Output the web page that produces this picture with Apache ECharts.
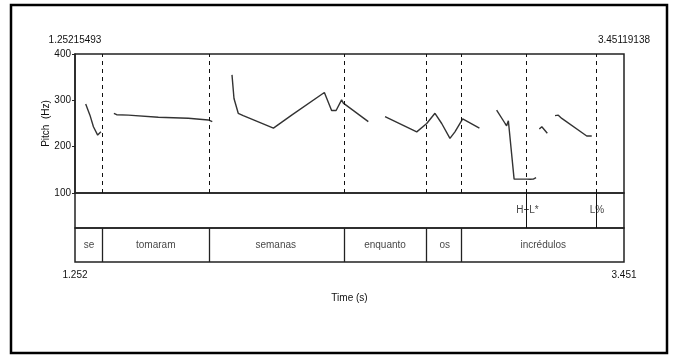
<!DOCTYPE html>
<html>
<head>
<meta charset="utf-8">
<script src="https://cdn.jsdelivr.net/npm/echarts@6/dist/echarts.min.js"></script>
<style>
html,body{margin:0;padding:0;background:#fff;}
#chart{width:674px;height:356px;}
</style>
</head>
<body>
<div id="chart"></div>
<script>
// ---- data ----
const tMin = 1.25215493;
const tMax = 3.45119138;
const headerLabels = ['1.25215493', '3.45119138'];
const bottomLabels = ['1.252', '3.451'];
const pitchTicks = [100, 200, 300, 400];

// pitch contour segments: [time (s), pitch (Hz)]
const seg1 = [[1.295,292],[1.312,268],[1.326,243],[1.343,225],[1.356,232]];
const seg2 = [[1.408,272],[1.419,269],[1.466,268],[1.473,265.5],[1.586,263.4],[1.593,262],[1.706,261.2],[1.713,259],[1.786,257.6],[1.802,254]];
const seg3 = [[1.881,355],[1.889,304],[1.906,272],[1.926,267],[2.047,240],[2.120,268],[2.251,317],[2.280,278],[2.298,278],[2.320,301],[2.327,294],[2.427,254]];
const seg4 = [[2.494,265],[2.621,232],[2.661,250],[2.694,272],[2.721,250],[2.754,218],[2.774,232],[2.805,260],[2.872,240]];
const seg5 = [[2.941,279],[2.975,250],[2.981,245],[2.988,256],[2.995,254],[3.011,130],[3.062,130],[3.068,132],[3.075,129.6],[3.081,133],[3.088,130],[3.099,133]];
const seg6 = [[3.112,238],[3.122,243],[3.144,229]];
const seg7 = [[3.175,267],[3.188,268],[3.202,261],[3.302,223],[3.322,223]];

// word tier
const wordBoundaries = [1.3643, 1.7869, 2.3257, 2.6621, 2.8043];
const words = ['se', 'tomaram', 'semanas', 'enquanto', 'os', 'incrédulos'];
// tone tier
const toneTimes = [3.0646, 3.3431];
const tones = ['H+L*', 'L%'];

// ---- build ----
const segments = [seg1, seg2, seg3, seg4, seg5, seg6, seg7];
const pitchData = [];
segments.forEach((s, i) => {
  s.forEach(p => pitchData.push(p));
  if (i < segments.length - 1) pitchData.push([null, null]);
});
const edges = [tMin].concat(wordBoundaries, [tMax]);
const wordData = words.map((w, i) => ({ value: [(edges[i] + edges[i + 1]) / 2, 0.5], name: w }));
const toneData = tones.map((w, i) => ({ value: [toneTimes[i], 0.5], name: w }));

const FONT = '"Liberation Sans Narrow", "Arial Narrow", "Liberation Sans", Arial, sans-serif';
const LEFT = 75, WIDTH = 549;
const FS = 10;

const chart = echarts.init(document.getElementById('chart'), null, { renderer: 'canvas' });
const hiddenX = (gi) => ({
  type: 'value', gridIndex: gi, min: tMin, max: tMax,
  axisLine: { show: false }, axisTick: { show: false }, axisLabel: { show: false }, splitLine: { show: false }
});
const hiddenY = (gi) => ({
  type: 'value', gridIndex: gi, min: 0, max: 1,
  axisLine: { show: false }, axisTick: { show: false }, axisLabel: { show: false }, splitLine: { show: false }
});

chart.setOption({
  animation: false,
  backgroundColor: '#fff',
  textStyle: { fontFamily: FONT },
  grid: [
    { left: LEFT, top: 54, width: WIDTH, height: 139, show: true, borderColor: '#222', borderWidth: 1.5, backgroundColor: 'transparent' },
    { left: LEFT, top: 193, width: WIDTH, height: 35, show: true, borderColor: '#222', borderWidth: 1.5, backgroundColor: 'transparent' },
    { left: LEFT, top: 228, width: WIDTH, height: 34, show: true, borderColor: '#222', borderWidth: 1.5, backgroundColor: 'transparent' }
  ],
  xAxis: [
    {
      type: 'value', gridIndex: 0, min: tMin, max: tMax, position: 'top',
      axisLine: { show: false }, axisTick: { show: false }, splitLine: { show: false },
      axisLabel: {
        customValues: [tMin, tMax], margin: 9, fontSize: FS, color: '#111', fontFamily: FONT,
        formatter: v => (Math.abs(v - tMin) < 1e-6 ? headerLabels[0] : headerLabels[1])
      }
    },
    hiddenX(1),
    {
      type: 'value', gridIndex: 2, min: tMin, max: tMax,
      axisLine: { show: false }, axisTick: { show: false }, splitLine: { show: false },
      axisLabel: {
        customValues: [tMin, tMax], margin: 8, fontSize: FS, color: '#111', fontFamily: FONT,
        formatter: v => (Math.abs(v - tMin) < 1e-6 ? bottomLabels[0] : bottomLabels[1])
      },
      name: 'Time (s)', nameLocation: 'middle', nameGap: 31,
      nameTextStyle: { fontSize: FS, color: '#111', fontFamily: FONT }
    }
  ],
  yAxis: [
    {
      type: 'value', gridIndex: 0, min: 100, max: 400, interval: 100,
      axisLine: { show: true, lineStyle: { color: '#222', width: 1.5 } },
      axisTick: { show: true, length: 3, lineStyle: { color: '#222' }, customValues: pitchTicks },
      axisLabel: { margin: 4, fontSize: FS, color: '#111', fontFamily: FONT, customValues: pitchTicks },
      splitLine: { show: false },
      name: 'Pitch  (Hz)', nameLocation: 'middle', nameRotate: 90, nameGap: 24, nameMoveOverlap: false,
      nameTextStyle: { fontSize: 10, color: '#111', fontFamily: '"Liberation Sans", Arial, sans-serif' }
    },
    hiddenY(1),
    hiddenY(2)
  ],
  series: [
    {
      type: 'line', xAxisIndex: 0, yAxisIndex: 0, data: pitchData,
      showSymbol: false, symbol: 'none', connectNulls: false,
      lineStyle: { color: '#333', width: 1.4 },
      markLine: {
        silent: true, symbol: 'none', label: { show: false },
        lineStyle: { color: '#111', width: 1, type: [4, 4] },
        data: wordBoundaries.concat(toneTimes).map(t => ({ xAxis: t }))
      }
    },
    {
      type: 'scatter', xAxisIndex: 1, yAxisIndex: 1, data: toneData,
      symbolSize: 0, silent: true,
      label: {
        show: true, position: 'inside', formatter: p => p.name, fontSize: FS, color: '#111',
        fontFamily: FONT, backgroundColor: '#fff', padding: [1, 0]
      },
      markLine: {
        silent: true, symbol: 'none', label: { show: false },
        lineStyle: { color: '#111', width: 1, type: 'solid' },
        data: toneTimes.map(t => ({ xAxis: t }))
      },
      z: 3
    },
    {
      type: 'scatter', xAxisIndex: 2, yAxisIndex: 2, data: wordData,
      symbolSize: 0, silent: true,
      label: { show: true, position: 'inside', formatter: p => p.name, fontSize: FS, color: '#111', fontFamily: FONT },
      markLine: {
        silent: true, symbol: 'none', label: { show: false },
        lineStyle: { color: '#222', width: 1.3, type: 'solid' },
        data: wordBoundaries.map(t => ({ xAxis: t }))
      }
    }
  ],
  graphic: [
    { type: 'rect', shape: { x: 11, y: 5, width: 656, height: 348 }, style: { fill: 'none', stroke: '#000', lineWidth: 2.5 }, silent: true }
  ]
});
</script>
</body>
</html>
